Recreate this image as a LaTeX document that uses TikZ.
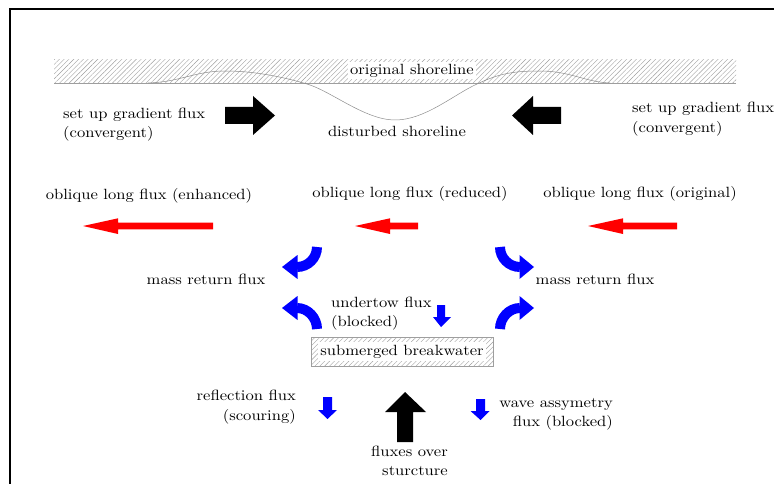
\documentclass[tikz,border=0pt]{standalone}
\usepackage{fontspec}
\setmainfont{lmroman10-regular.otf}[FakeStretch=1.12]
\usetikzlibrary{patterns.meta}
\definecolor{hatchgray}{gray}{0.62}
\definecolor{curvegray}{gray}{0.55}
\tikzset{
  lbl/.style={inner sep=0pt, font=\fontsize{14.8}{19.5}\selectfont},
  hatch/.style={pattern={Lines[angle=45,distance=3.4pt,line width=0.4pt]}, pattern color=hatchgray},
  blockblack/.style={fill=black},
  blockred/.style={fill=red},
  blockblue/.style={fill=blue},
  curvestem/.style={draw=blue, line width=10pt},
}
\begin{document}
\begin{tikzpicture}[x=1pt,y=-1pt]
\useasboundingbox (0,0) rectangle (774,484);
\clip (0,0) rectangle (774,484);
% frame
\draw[line width=2pt] (9.5,500) -- (9.5,9.5) -- (800,9.5);
% hatched shore band
\fill[hatch] (54,60) rectangle (736,83);
\draw[hatchgray, line width=0.6pt] (54,83) -- (736,83);
% disturbed shoreline
\draw[curvegray, line width=0.5pt] (148,83) .. controls (180,82) and (195,71) .. (225,71)
  .. controls (255,71) and (283,77) .. (307,84)
  .. controls (331,91) and (365,120) .. (395,120)
  .. controls (425,120) and (453,95) .. (477,84)
  .. controls (500,73) and (515,71) .. (540,71)
  .. controls (570,71) and (585,82) .. (610,83);
\node[lbl, fill=white, minimum height=17pt, inner xsep=2pt] (orig) at (412,71) {original shoreline};
\node[lbl] (dist) at (397,131) {disturbed shoreline};
% gradient flux
\node[lbl, anchor=west, align=left] (gradL) at (63,124.5) {set up gradient flux\\(convergent)};
\node[lbl, anchor=west, align=left] (gradR) at (632,119) {set up gradient flux\\(convergent)};
\fill[blockblack] (225,107) -- (253,107) -- (253,96) -- (275,115.5) -- (253,135) -- (253,124) -- (225,124) -- cycle;
\fill[blockblack] (561,107) -- (533,107) -- (533,96) -- (512,115.5) -- (533,135) -- (533,124) -- (561,124) -- cycle;
% oblique long flux
\node[lbl] (oblE) at (149,196) {oblique long flux (enhanced)};
\node[lbl] (oblR) at (410,194) {oblique long flux (reduced)};
\node[lbl] (oblO) at (640,194) {oblique long flux (original)};
\fill[blockred] (213,222.7) -- (118,222.7) -- (118,218.3) -- (83,226) -- (118,234) -- (118,229.3) -- (213,229.3) -- cycle;
\fill[blockred] (418,222.7) -- (390,222.7) -- (390,218.3) -- (355,226) -- (390,234) -- (390,229.3) -- (418,229.3) -- cycle;
\fill[blockred] (677,222.7) -- (623,222.7) -- (623,218.3) -- (588,226) -- (623,234) -- (623,229.3) -- (677,229.3) -- cycle;
% mass return flux
\node[lbl] (massL) at (206,279) {mass return flux};
\node[lbl] (massR) at (595,279) {mass return flux};
% curved blue arrows
\draw[curvestem] (317,247) .. controls (317,258) and (308,267) .. (297,267);
\fill[blockblue] (297.5,255) -- (282,267) -- (297.5,279) -- cycle;
\draw[curvestem] (317,329) .. controls (317,318) and (308,308) .. (297,308);
\fill[blockblue] (297.5,296) -- (282,308) -- (297.5,320) -- cycle;
\draw[curvestem] (500,247) .. controls (500,258) and (509,267) .. (520,267);
\fill[blockblue] (519.5,255) -- (534,267) -- (519.5,279) -- cycle;
\draw[curvestem] (500,329) .. controls (500,318) and (509,308) .. (520,308);
\fill[blockblue] (519.5,296) -- (534,308) -- (519.5,320) -- cycle;
% undertow
\node[lbl, anchor=west, align=left] (under) at (331,313.5) {undertow flux\\(blocked)};
\fill[blockblue] (437,305) -- (445,305) -- (445,317) -- (451,317) -- (441,327) -- (433,317) -- (437,317) -- cycle;
% breakwater
\fill[hatch] (311,337) rectangle (493,366);
\draw[hatchgray, line width=0.6pt] (311,337) rectangle (493,366);
\node[lbl, fill=white, minimum width=168pt, minimum height=19pt] (bw) at (402,351.5) {submerged breakwater};
% bottom fluxes
\node[lbl, anchor=east, align=right] (refl) at (296,407) {reflection flux\\(scouring)};
\fill[blockblue] (323,397) -- (332,397) -- (332,410) -- (337,410) -- (327.5,419) -- (318,410) -- (323,410) -- cycle;
\node[lbl, anchor=east, align=right] (wave) at (613,414.5) {wave assymetry\\flux (blocked)};
\fill[blockblue] (476,399) -- (485,399) -- (485,411) -- (489.5,411) -- (480.5,420) -- (470.5,411) -- (476,411) -- cycle;
\fill[blockblack] (397,442) -- (397,412) -- (385,412) -- (405,392) -- (426,412) -- (413,412) -- (413,442) -- cycle;
\node[lbl, anchor=east, align=right] (over) at (448,461) {fluxes over\\sturcture};
\end{tikzpicture}
\end{document}
